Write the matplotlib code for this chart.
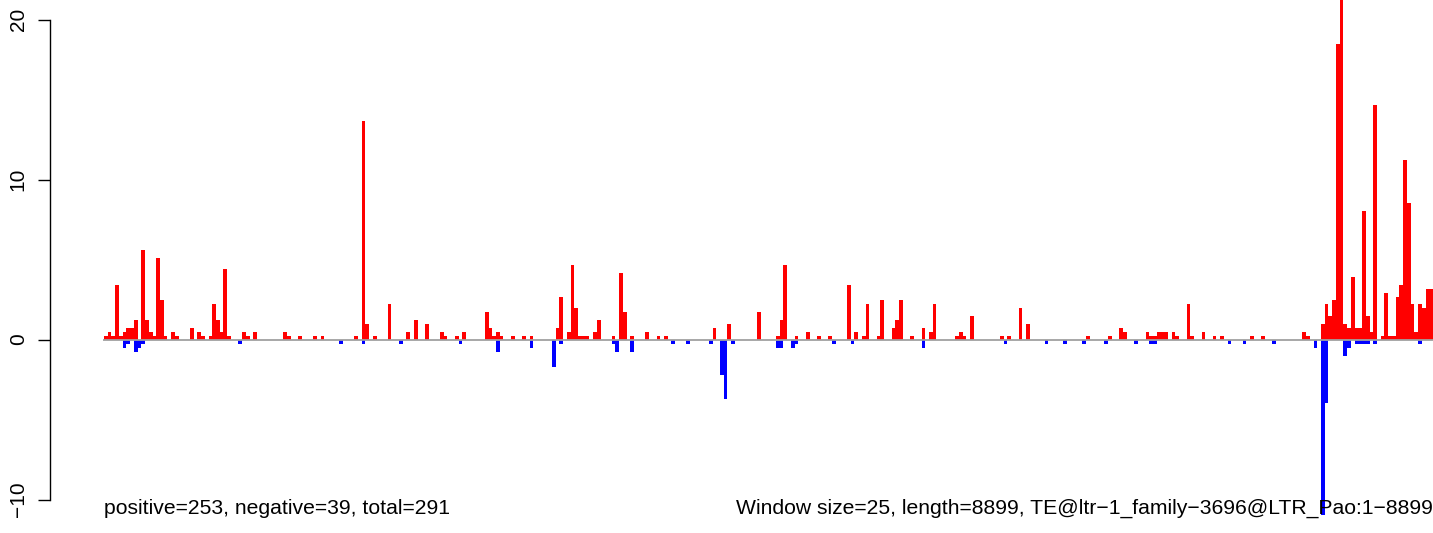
import matplotlib
matplotlib.use("Agg")
import matplotlib.pyplot as plt
import numpy as np

# ---- data (window index -> value) ----
n_windows = 356
positive = {
    0: 0.22, 1: 0.46, 2: 0.22, 3: 3.4, 4: 0.22, 5: 0.46, 6: 0.7, 7: 0.7, 8: 1.2,
    10: 5.6, 11: 1.2, 12: 0.46, 13: 0.22, 14: 5.1, 15: 2.47, 16: 0.22, 18: 0.46,
    19: 0.22, 23: 0.7, 25: 0.46, 26: 0.22, 28: 0.22, 29: 2.2, 30: 1.2, 31: 0.46,
    32: 4.4, 33: 0.22, 37: 0.46, 38: 0.22, 40: 0.46, 48: 0.46, 49: 0.22, 52: 0.22,
    56: 0.22, 58: 0.22, 67: 0.22, 69: 13.66, 70: 0.97, 72: 0.22, 76: 2.2, 81: 0.46,
    83: 1.2, 86: 0.97, 90: 0.46, 91: 0.22, 94: 0.22, 96: 0.46, 102: 1.7, 103: 0.7,
    104: 0.22, 105: 0.46, 106: 0.22, 109: 0.22, 112: 0.22, 114: 0.22, 121: 0.7,
    122: 2.66, 124: 0.46, 125: 4.65, 126: 1.97, 127: 0.22, 128: 0.22, 129: 0.22,
    131: 0.46, 132: 1.2, 136: 0.22, 138: 4.16, 139: 1.7, 141: 0.22, 145: 0.46,
    148: 0.22, 150: 0.22, 163: 0.7, 167: 0.97, 175: 1.7, 180: 0.22, 181: 1.2,
    182: 4.65, 185: 0.22, 188: 0.46, 191: 0.22, 194: 0.22, 199: 3.4, 201: 0.46,
    203: 0.22, 204: 2.2, 207: 0.22, 208: 2.47, 211: 0.7, 212: 1.2, 213: 2.47,
    216: 0.22, 219: 0.7, 221: 0.46, 222: 2.2, 228: 0.22, 229: 0.46, 230: 0.22,
    232: 1.47, 240: 0.22, 242: 0.22, 245: 1.97, 247: 0.97, 263: 0.22, 269: 0.22,
    272: 0.7, 273: 0.46, 279: 0.46, 280: 0.22, 281: 0.22, 282: 0.46, 283: 0.46,
    284: 0.46, 286: 0.46, 287: 0.22, 290: 2.2, 291: 0.22, 294: 0.46, 297: 0.22,
    299: 0.22, 307: 0.22, 310: 0.22, 321: 0.46, 322: 0.22, 326: 0.97, 327: 2.2,
    328: 1.47, 329: 2.47, 330: 18.5, 331: 21.5, 332: 0.97, 333: 0.72, 334: 3.9,
    335: 0.72, 336: 0.72, 337: 8.03, 338: 1.47, 339: 0.47, 340: 14.66, 342: 0.22,
    343: 2.9, 344: 0.22, 345: 0.22, 346: 2.66, 347: 3.4, 348: 11.2, 349: 8.53,
    350: 2.2, 351: 0.47, 352: 2.2, 353: 1.97, 354: 3.16, 355: 3.16,
}
negative = {
    5: -0.5, 6: -0.25, 8: -0.75, 9: -0.5, 10: -0.25, 36: -0.25, 63: -0.25,
    69: -0.25, 79: -0.25, 95: -0.25, 105: -0.75, 114: -0.5, 120: -1.7, 122: -0.25,
    136: -0.25, 137: -0.75, 141: -0.75, 152: -0.25, 156: -0.25, 162: -0.25,
    165: -2.2, 166: -3.7, 168: -0.25, 180: -0.5, 181: -0.5, 184: -0.5, 185: -0.25,
    195: -0.25, 200: -0.25, 219: -0.5, 241: -0.25, 252: -0.25, 257: -0.25,
    262: -0.25, 268: -0.25, 276: -0.25, 280: -0.25, 281: -0.25, 301: -0.25,
    305: -0.25, 313: -0.25, 324: -0.5, 326: -10.98, 327: -3.95, 332: -1.0,
    333: -0.5, 335: -0.25, 336: -0.25, 337: -0.25, 338: -0.25, 340: -0.25,
    352: -0.25,
}
yticks = [-10, 0, 10, 20]
left_label = "positive=253, negative=39, total=291"
right_label = "Window size=25, length=8899, TE@ltr\u22121_family\u22123696@LTR_Pao:1\u22128899"

plt.rcParams['font.family'] = ['Liberation Sans', 'DejaVu Sans']

W, H = 1433, 533
fig = plt.figure(figsize=(W / 100, H / 100), dpi=100)
ax_left_px, ax_top_px, ax_bottom_px = 50, 0, 517
ax = fig.add_axes([ax_left_px / W, 1 - ax_bottom_px / H, 1 - ax_left_px / W,
                   (ax_bottom_px - ax_top_px) / H])

bar_w_px = (W - 104) / n_windows
x0_px = 104
ax.set_xlim((ax_left_px - x0_px) / bar_w_px, (W - x0_px) / bar_w_px)
zero_px, unit_px = 339.5, 16.0
ax.set_ylim(-(ax_bottom_px - zero_px) / unit_px, (zero_px - ax_top_px) / unit_px)

px = list(positive.keys())
ax.bar(px, [positive[k] for k in px], width=1.0, align='edge', color='#FF0000',
       linewidth=0, zorder=2)
nx = list(negative.keys())
ax.bar(nx, [negative[k] for k in nx], width=1.0, align='edge', color='#0000FF',
       linewidth=0, zorder=2)
ax.plot([-0.3, n_windows], [0, 0], color='#a0a0a0', lw=1.3, zorder=3,
        solid_capstyle='butt')

for s in ['top', 'right', 'bottom']:
    ax.spines[s].set_visible(False)
ax.spines['left'].set_bounds(-10, 20)
ax.spines['left'].set_linewidth(1.0)
ax.set_yticks(yticks)
ax.set_yticklabels([str(t).replace('-', '\u2212') for t in yticks], rotation=90,
                   va='center', fontsize=15)
ax.tick_params(axis='y', length=9, width=1.0, pad=7)
ax.set_xticks([])
ax.patch.set_visible(False)

fig.text(104 / W, 1 - 508 / H, left_label, ha='left', va='center', fontsize=15.2,
         zorder=5)
fig.text(1433 / W, 1 - 508 / H, right_label, ha='right', va='center', fontsize=15.2,
         zorder=5)

fig.savefig('out.png', dpi=100)
